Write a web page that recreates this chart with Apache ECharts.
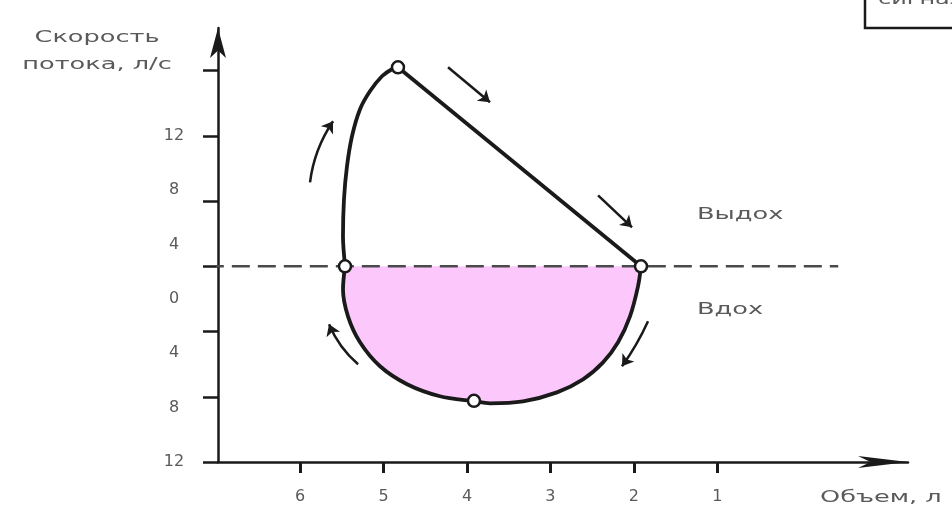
<!DOCTYPE html>
<html><head><meta charset="utf-8">
<script src="https://cdn.jsdelivr.net/npm/echarts@6/dist/echarts.min.js"></script>
<style>html,body{margin:0;padding:0;background:#fff}#c{width:952px;height:511px}</style>
</head><body><div id="c"></div>
<script>
// Axis ticks / labels
const volumeTicks = [6, 5, 4, 3, 2, 1];
const flowTicks = [-12, -8, -4, 0, 4, 8, 12];
const flowLabelValues = [-12, -8, -4, 0, 4, 8, 12]; // printed as absolute values

// Expiration: rising limb (volume, flow)
const expVolume = [5.46, 5.486, 5.474, 5.438, 5.378, 5.282, 5.163, 5.019, 4.90, 4.827];
const expFlow   = [0, 1.84, 4.11, 6.13, 7.97, 9.63, 10.73, 11.65, 12.08, 12.20];
// Expiration: falling limb (straight)
const fallVolume = [4.827, 1.914];
const fallFlow   = [12.20, 0];
// Inspiration
const inspVolume = [1.914, 1.950, 2.046, 2.189, 2.369, 2.609, 2.921, 3.328, 3.724, 3.916, 4.323, 4.718, 5.042, 5.282, 5.426, 5.486, 5.462];
const inspFlow   = [0, -1.23, -3.07, -4.66, -5.89, -6.93, -7.73, -8.28, -8.40, -8.28, -7.97, -7.23, -6.13, -4.66, -3.07, -1.41, 0];
// Marked points
const markerVolume = [4.827, 5.462, 1.914, 3.916];
const markerFlow   = [12.20, 0, 0, -8.25];
// Zero-flow dashed line
const baselineVolume = [7.13, -0.45];
const baselineFlow   = [0, 0];
// Direction arrows
const arrowStartVolume = [5.881, 4.227, 2.429, 1.830, 5.305];
const arrowStartFlow   = [5.15, 12.20, 4.35, -3.37, -6.01];
const arrowEndVolume   = [5.605, 3.724, 2.022, 2.142, 5.653];
const arrowEndFlow     = [8.89, 10.06, 2.39, -6.13, -3.56];
const arrowCurve       = [0.12, 0, 0, 0.05, 0.12];

const zip = (a, b) => a.map((v, i) => [v, b[i]]);
const INK = '#1a1a1a', TXT = '#5a5a5a';
const FONT = '"DejaVu Sans", Verdana, sans-serif';

const chart = echarts.init(document.getElementById('c'), null, {renderer: 'canvas'});
chart.setOption({
  animation: false,
  backgroundColor: '#fff',
  grid: {left: 218, right: 44, top: 28, bottom: 49, containLabel: false},
  xAxis: {
    type: 'value', inverse: true, min: -1.286, max: 6.984,
    axisLine: {show: true, onZero: false, symbol: ['none', 'arrow'], symbolSize: [9, 50], lineStyle: {color: INK, width: 2.5}},
    axisTick: {show: true, customValues: volumeTicks, length: 11, lineStyle: {color: INK, width: 3}},
    axisLabel: {show: true, customValues: volumeTicks, margin: 27, color: TXT, fontSize: 16, fontFamily: FONT},
    splitLine: {show: false}
  },
  yAxis: [{
    type: 'value', min: -12, max: 14.61,
    axisLine: {show: true, onZero: false, symbol: ['none', 'arrow'], symbolSize: [12, 30], lineStyle: {color: INK, width: 2.5}},
    axisTick: {show: true, customValues: flowTicks, length: 15, lineStyle: {color: INK, width: 2.5}},
    axisLabel: {show: false},
    splitLine: {show: false}
  }, {
    type: 'value', position: 'left', min: -12, max: 19.91,
    axisLine: {show: false, onZero: false}, axisTick: {show: false}, splitLine: {show: false},
    axisLabel: {show: true, customValues: flowLabelValues, align: 'center', margin: 44,
      color: TXT, fontSize: 16, fontFamily: FONT, formatter: v => String(Math.abs(v))}
  }],
  series: [
    {type: 'line', name: 'fill', data: zip(inspVolume, inspFlow), smooth: 0.3, symbol: 'none',
     lineStyle: {width: 0}, areaStyle: {color: '#fcc8fc', opacity: 1}, z: 1},
    {type: 'line', name: 'baseline', data: zip(baselineVolume, baselineFlow), symbol: 'none', clip: false,
     lineStyle: {color: '#4a4a4a', width: 2.5, type: [18, 8]}, z: 2},
    {type: 'line', name: 'exp', data: zip(expVolume, expFlow), smooth: 0.35, symbol: 'none',
     lineStyle: {color: INK, width: 3.8}, z: 3},
    {type: 'line', name: 'fall', data: zip(fallVolume, fallFlow), symbol: 'none',
     lineStyle: {color: INK, width: 3.8}, z: 3},
    {type: 'line', name: 'insp', data: zip(inspVolume, inspFlow), smooth: 0.3, symbol: 'none',
     lineStyle: {color: INK, width: 3.8}, z: 3},
    {type: 'lines', coordinateSystem: 'cartesian2d', z: 4,
     symbol: ['none', 'arrow'], symbolSize: 11,
     data: arrowStartVolume.map((v, i) => ({
       coords: [[v, arrowStartFlow[i]], [arrowEndVolume[i], arrowEndFlow[i]]],
       lineStyle: {curveness: arrowCurve[i]}
     })),
     lineStyle: {color: INK, width: 2.5, opacity: 1}},
    {type: 'scatter', name: 'markers', data: zip(markerVolume, markerFlow), symbol: 'circle', symbolSize: 12,
     itemStyle: {color: '#fff', borderColor: INK, borderWidth: 2.5, opacity: 1}, z: 5}
  ],
  graphic: [
    {type: 'rect', shape: {x: 865, y: -10, width: 100, height: 38},
     style: {fill: '#fff', stroke: INK, lineWidth: 2.5}, z: 10},
    {type: 'text', x: 878, y: 0, scaleX: 1.5, z: 11,
     style: {text: 'сигнал', font: '16px ' + FONT, fill: TXT, textAlign: 'left', textVerticalAlign: 'middle'}},
    {type: 'text', x: 97, y: 51, scaleX: 1.6, z: 10,
     style: {text: 'Скорость\nпотока, л/с', font: '16px ' + FONT, fill: TXT, textAlign: 'center', textVerticalAlign: 'middle', lineHeight: 27}},
    {type: 'text', x: 820, y: 498, scaleX: 1.6, z: 10,
     style: {text: 'Объем, л', font: '16px ' + FONT, fill: TXT, textAlign: 'left', textVerticalAlign: 'middle'}},
    {type: 'text', x: 697, y: 215, scaleX: 1.6, z: 10,
     style: {text: 'Выдох', font: '16px ' + FONT, fill: TXT, textAlign: 'left', textVerticalAlign: 'middle'}},
    {type: 'text', x: 697, y: 310, scaleX: 1.6, z: 10,
     style: {text: 'Вдох', font: '16px ' + FONT, fill: TXT, textAlign: 'left', textVerticalAlign: 'middle'}}
  ]
});
</script></body></html>
